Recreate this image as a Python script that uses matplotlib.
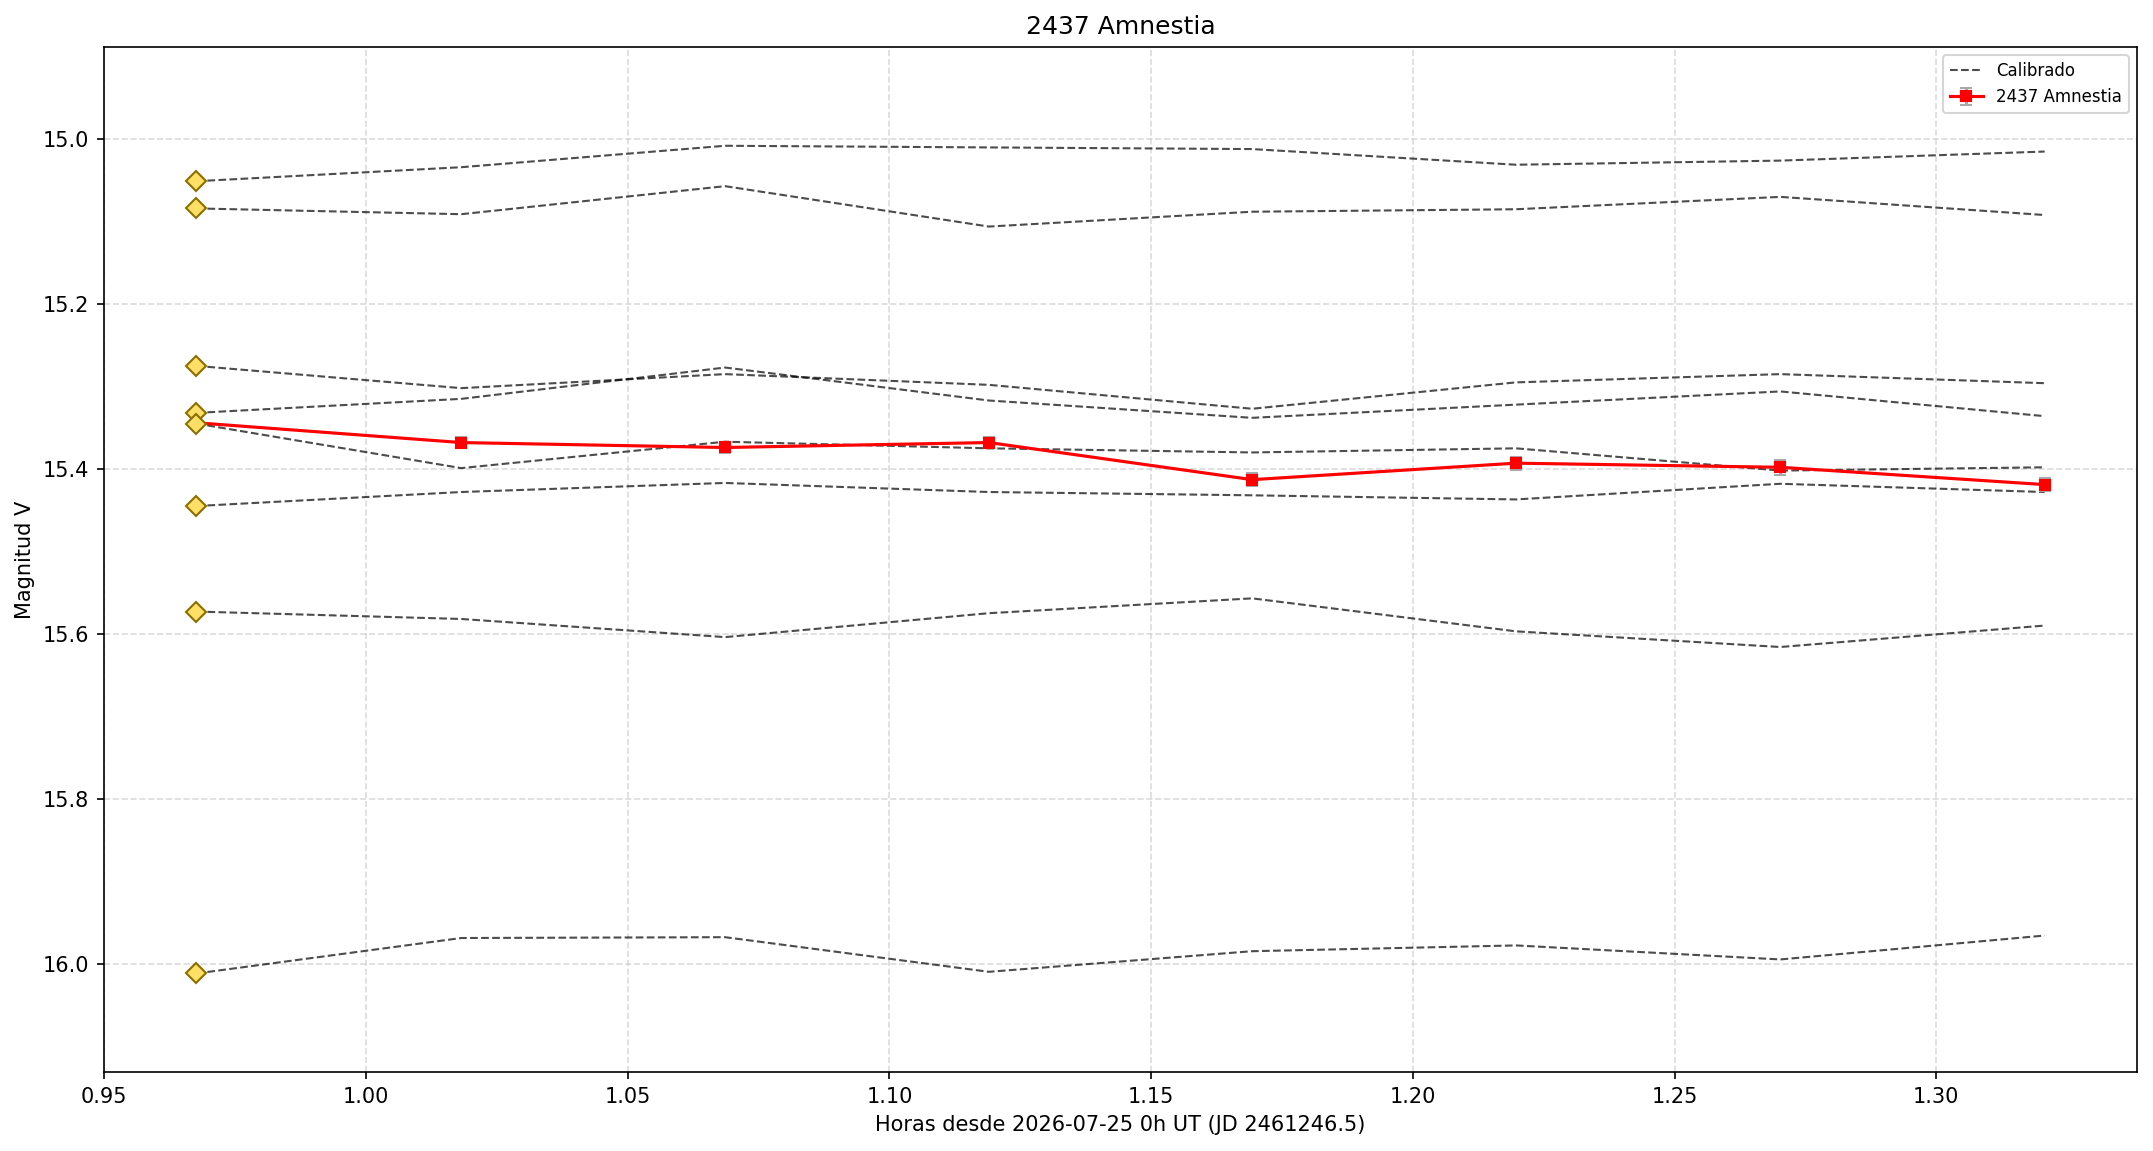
import matplotlib
matplotlib.use('Agg')
import matplotlib.pyplot as plt
import numpy as np


# hours since 2026-07-25 0h UT
hours = [0.9676, 1.0182, 1.0686, 1.1190, 1.1693, 1.2197, 1.2702, 1.3207]

# calibrated comparison stars (magnitude V)
comp_1 = [15.051, 15.034, 15.008, 15.010, 15.012, 15.031, 15.026, 15.015]
comp_2 = [15.084, 15.091, 15.057, 15.106, 15.088, 15.085, 15.070, 15.092]
comp_3 = [15.275, 15.302, 15.285, 15.298, 15.327, 15.295, 15.285, 15.296]
comp_4 = [15.332, 15.315, 15.277, 15.317, 15.338, 15.322, 15.306, 15.336]
comp_5 = [15.345, 15.399, 15.367, 15.375, 15.380, 15.375, 15.402, 15.398]
comp_6 = [15.445, 15.428, 15.417, 15.428, 15.432, 15.437, 15.418, 15.428]
comp_7 = [15.573, 15.582, 15.604, 15.575, 15.557, 15.597, 15.616, 15.590]
comp_8 = [16.012, 15.969, 15.968, 16.010, 15.985, 15.978, 15.995, 15.966]

# target
target_mag = [15.344, 15.368, 15.374, 15.368, 15.413, 15.393, 15.398, 15.419]
target_err = [0.006, 0.007, 0.007, 0.007, 0.008, 0.008, 0.009, 0.008]

title = '2437 Amnestia'
x_label = 'Horas desde 2026-07-25 0h UT (JD 2461246.5)'
y_label = 'Magnitud V'
y_pad = 0.12


def main():
    comps = [comp_1, comp_2, comp_3, comp_4, comp_5, comp_6, comp_7, comp_8]

    fig = plt.figure(figsize=(2153 / 150, 1151 / 150), dpi=150)
    ax = fig.add_axes([0.0483, 0.0683, 0.9443, 0.8910])

    for i, mags in enumerate(comps):
        ax.plot(hours, mags, linestyle='--', color='black', alpha=0.7,
                linewidth=1.0, label='Calibrado' if i == 0 else None, zorder=2)

    ax.errorbar(hours, target_mag, yerr=target_err, color='red', marker='s',
                markersize=5, linewidth=1.5, ecolor='darkgray', elinewidth=1.5,
                capsize=3, label=title, zorder=3)

    first_mags = [mags[0] for mags in comps]
    ax.plot([hours[0]] * len(first_mags), first_mags, linestyle='none',
            marker='D', markersize=7, markerfacecolor='#FFDF66',
            markeredgecolor='#8B6F00', markeredgewidth=1.0, zorder=5)

    all_mags = np.concatenate([np.array(c) for c in comps] + [np.array(target_mag)])
    ax.set_ylim(all_mags.max() + y_pad, all_mags.min() - y_pad)

    ax.set_title(title, fontsize=12)
    ax.set_xlabel(x_label)
    ax.set_ylabel(y_label)
    ax.grid(True, linestyle='--', color='#cccccc', alpha=0.7)
    ax.legend(loc='upper right', fontsize=8)

    fig.savefig('out.png', dpi=150)


if __name__ == '__main__':
    main()
